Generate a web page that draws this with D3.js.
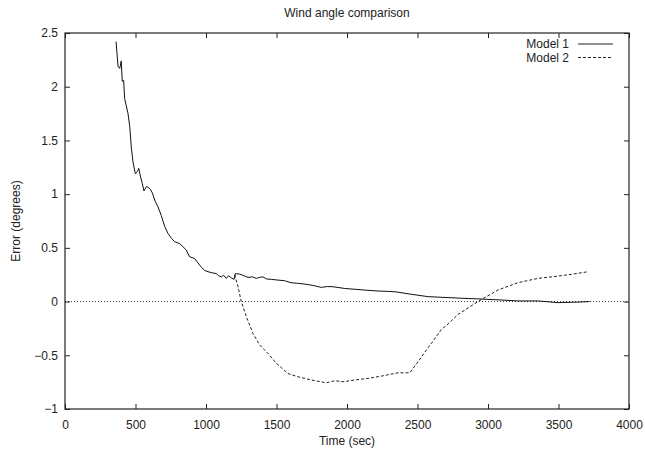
<!DOCTYPE html>
<html>
<head>
<meta charset="utf-8">
<script src="https://cdn.jsdelivr.net/npm/d3@7/dist/d3.min.js"></script>
<style>
  html, body { margin: 0; padding: 0; background: #fff; }
  svg { display: block; }
  text { font-family: "Liberation Sans", Arial, sans-serif; fill: #222; }
</style>
</head>
<body>
<svg id="chart" width="645" height="453"></svg>
<script>
const chartTitle = "Wind angle comparison";
const xLabel = "Time (sec)";
const yLabel = "Error (degrees)";
const seriesNames = ["Model 1", "Model 2"];
const xTicks = [0, 500, 1000, 1500, 2000, 2500, 3000, 3500, 4000];
const yTicks = [-1, -0.5, 0, 0.5, 1, 1.5, 2, 2.5];

const model1Time = [362, 376, 388, 399, 406, 416, 423, 447, 459, 470, 482, 499, 513, 523, 536, 548, 560, 577, 593, 608, 620, 636, 660, 683, 707, 730, 754, 778, 813, 837, 860, 884, 920, 943, 967, 990, 1014, 1037, 1073, 1090, 1109, 1125, 1144, 1160, 1180, 1199, 1208, 1239, 1270, 1298, 1330, 1357, 1380, 1404, 1430, 1463, 1510, 1558, 1605, 1650, 1700, 1760, 1818, 1860, 1901, 1984, 2050, 2126, 2220, 2290, 2350, 2445, 2574, 2716, 2829, 2929, 3071, 3213, 3355, 3496, 3638, 3720];
const model1Error = [2.42, 2.19, 2.17, 2.24, 2.05, 2.06, 1.89, 1.75, 1.63, 1.44, 1.30, 1.19, 1.21, 1.24, 1.16, 1.10, 1.03, 1.07, 1.06, 1.04, 1.01, 0.945, 0.88, 0.80, 0.70, 0.635, 0.59, 0.557, 0.54, 0.51, 0.48, 0.417, 0.40, 0.36, 0.32, 0.29, 0.278, 0.27, 0.26, 0.24, 0.23, 0.245, 0.216, 0.24, 0.22, 0.207, 0.26, 0.256, 0.24, 0.225, 0.23, 0.216, 0.225, 0.23, 0.21, 0.207, 0.20, 0.194, 0.175, 0.17, 0.163, 0.15, 0.132, 0.14, 0.138, 0.122, 0.115, 0.107, 0.098, 0.095, 0.09, 0.07, 0.046, 0.037, 0.03, 0.025, 0.016, 0.006, 0.006, -0.01, -0.005, 0.0];

const model2Time = [1203, 1227, 1250, 1286, 1333, 1381, 1440, 1499, 1582, 1652, 1747, 1853, 1913, 1972, 2055, 2149, 2243, 2362, 2445, 2504, 2574, 2598, 2669, 2716, 2787, 2929, 3071, 3213, 3355, 3496, 3600, 3709];
const model2Error = [0.25, 0.14, 0.0, -0.14, -0.296, -0.405, -0.483, -0.575, -0.67, -0.70, -0.73, -0.756, -0.737, -0.746, -0.73, -0.715, -0.694, -0.663, -0.663, -0.56, -0.43, -0.39, -0.26, -0.21, -0.12, 0.0, 0.108, 0.176, 0.216, 0.237, 0.255, 0.278];

const svg = d3.select("#chart");
const L = 65, R = 629, T = 33, B = 409;
const x = d3.scaleLinear().domain([0, 4000]).range([L, R]);
const y = d3.scaleLinear().domain([-1, 2.5]).range([B, T]);
const tickLen = 5;

// zero line (dotted)
svg.append("line")
  .attr("x1", L).attr("x2", R).attr("y1", y(0)).attr("y2", y(0))
  .attr("stroke", "#333").attr("stroke-width", 1).attr("stroke-dasharray", "1,2");

// axes (ticks inward, mirrored)
const axB = svg.append("g").attr("transform", `translate(0,${B})`)
  .call(d3.axisBottom(x).tickValues(xTicks).tickSizeInner(-tickLen).tickSizeOuter(0).tickPadding(11.5).tickFormat(d3.format("d")));
const axT = svg.append("g").attr("transform", `translate(0,${T})`)
  .call(d3.axisTop(x).tickValues(xTicks).tickSizeInner(-tickLen).tickSizeOuter(0).tickFormat(""));
const axL = svg.append("g").attr("transform", `translate(${L},0)`)
  .call(d3.axisLeft(y).tickValues(yTicks).tickSizeInner(-tickLen).tickSizeOuter(0).tickPadding(7).tickFormat(d => d3.format("")(d)));
const axR = svg.append("g").attr("transform", `translate(${R},0)`)
  .call(d3.axisRight(y).tickValues(yTicks).tickSizeInner(-tickLen).tickSizeOuter(0).tickFormat(""));

[axB, axT, axL, axR].forEach(g => {
  g.select(".domain").remove();
  g.selectAll(".tick line").attr("stroke", "#222").attr("stroke-width", 1);
  g.selectAll(".tick text").attr("font-size", 12).attr("font-family", "Liberation Sans, Arial, sans-serif").attr("fill", "#222");
});

// frame
svg.append("rect").attr("x", L).attr("y", T).attr("width", R - L).attr("height", B - T)
  .attr("fill", "none").attr("stroke", "#222").attr("stroke-width", 1.2);

const line = d3.line().x(d => x(d[0])).y(d => y(d[1]));
const m1 = model1Time.map((t, i) => [t, model1Error[i]]);
const m2 = model2Time.map((t, i) => [t, model2Error[i]]);

svg.append("path").datum(m2).attr("d", line)
  .attr("fill", "none").attr("stroke", "#222").attr("stroke-width", 1).attr("stroke-dasharray", "3,2");
svg.append("path").datum(m1).attr("d", line)
  .attr("fill", "none").attr("stroke", "#111").attr("stroke-width", 1);

// title & labels
svg.append("text").attr("x", (L + R) / 2).attr("y", 17).attr("text-anchor", "middle")
  .attr("font-size", 12).text(chartTitle);
svg.append("text").attr("x", (L + R) / 2).attr("y", 445).attr("text-anchor", "middle")
  .attr("font-size", 12).text(xLabel);
svg.append("text").attr("transform", `translate(20,221) rotate(-90)`).attr("text-anchor", "middle")
  .attr("font-size", 12).text(yLabel);

// legend
const legBase = [48, 61.5];
seriesNames.forEach((name, i) => {
  svg.append("text").attr("x", 569).attr("y", legBase[i]).attr("text-anchor", "end")
    .attr("font-size", 12).text(name);
  svg.append("line").attr("x1", 578).attr("x2", 613).attr("y1", legBase[i] - 4).attr("y2", legBase[i] - 4)
    .attr("stroke", "#222").attr("stroke-width", 1)
    .attr("stroke-dasharray", i === 0 ? null : "3,2");
});
</script>
</body>
</html>
